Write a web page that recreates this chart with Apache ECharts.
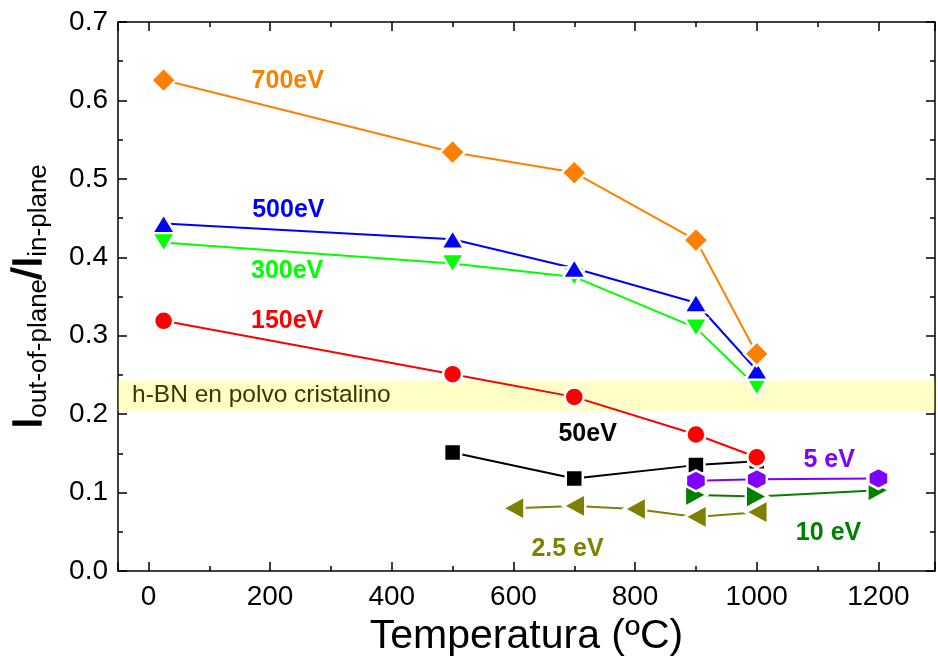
<!DOCTYPE html>
<html>
<head>
<meta charset="utf-8">
<script src="https://cdn.jsdelivr.net/npm/echarts@6/dist/echarts.min.js"></script>
<style>html,body{margin:0;padding:0;background:#fff;}#c{width:938px;height:662px;}</style>
</head>
<body>
<div id="c"></div>
<script>
// ---- data ----
const temps700 = [25, 500, 700, 900, 1000];
const values700 = [0.626, 0.534, 0.508, 0.422, 0.277];
const temps500 = [25, 500, 700, 900, 1000];
const values500 = [0.443, 0.423, 0.386, 0.342, 0.256];
const temps300 = [25, 500, 700, 900, 1000];
const values300 = [0.419, 0.392, 0.375, 0.310, 0.235];
const temps150 = [25, 500, 700, 900, 1000];
const values150 = [0.319, 0.251, 0.222, 0.174, 0.145];
const temps50 = [500, 700, 900, 1000];
const values50 = [0.151, 0.118, 0.135, 0.140];
const temps5 = [900, 1000, 1200];
const values5 = [0.115, 0.117, 0.118];
const temps10 = [900, 1000, 1200];
const values10 = [0.097, 0.095, 0.103];
const temps2_5 = [600, 700, 800, 900, 1000];
const values2_5 = [0.080, 0.083, 0.079, 0.069, 0.075];
const seriesNames = ['700eV', '500eV', '300eV', '150eV', '50eV', '5 eV', '10 eV', '2.5 eV'];
const bandRange = [0.204, 0.243];
const bandText = 'h-BN en polvo cristalino';
const xTitle = 'Temperatura (ºC)';

const FONT = 'Liberation Sans, Arial, sans-serif';
const HEX = 'path://M0,-10 L8.66,-5 L8.66,5 L0,10 L-8.66,5 L-8.66,-5 Z';

function pairs(xs, ys) { return xs.map((x, i) => [x, ys[i]]); }

function mkSeries(name, xs, ys, color, symbol, size, rotate, labelCoord) {
  return {
    name: name, type: 'line', data: pairs(xs, ys),
    xAxisIndex: 0, yAxisIndex: 0,
    symbol: symbol, symbolSize: size, symbolRotate: rotate || 0,
    lineStyle: { color: color, width: 2 },
    itemStyle: { color: color, borderColor: '#fff', borderWidth: 2.5 },
    emphasis: { disabled: true },
    animation: false,
    z: 3,
    markPoint: {
      symbol: 'circle', symbolSize: 1,
      itemStyle: { color: 'rgba(0,0,0,0)' },
      label: { show: true, position: 'inside', formatter: name, color: color,
               fontFamily: FONT, fontWeight: 'bold', fontSize: 25 },
      data: [{ coord: labelCoord }],
      animation: false
    }
  };
}

const xCommon = { type: 'value', min: -50, max: 1293, splitLine: { show: false } };
const axisLineStyle = { show: true, onZero: false, lineStyle: { color: '#000', width: 1.5 } };

const option = {
  backgroundColor: '#fff',
  animation: false,
  grid: { left: 118, right: 1, top: 22, bottom: 89 },
  xAxis: [
    Object.assign({}, xCommon, {
      position: 'bottom', splitNumber: 7,
      axisLine: axisLineStyle,
      axisTick: { show: true, inside: true, length: 9, lineStyle: { color: '#000', width: 1.5 } },
      axisLabel: { show: true, margin: 12, fontSize: 28, color: '#000', fontFamily: FONT,
        formatter: v => (Math.abs(v % 200) < 1e-6 ? String(v) : '') },
      name: xTitle, nameLocation: 'middle', nameGap: 45,
      nameTextStyle: { fontSize: 41, color: '#000', fontFamily: FONT }
    }),
    Object.assign({}, xCommon, {
      position: 'bottom', splitNumber: 13,
      axisLine: { show: false, onZero: false },
      axisTick: { show: true, inside: true, length: 5, lineStyle: { color: '#000', width: 1.5 } },
      axisLabel: { show: false }
    }),
    Object.assign({}, xCommon, {
      position: 'top', splitNumber: 7,
      axisLine: axisLineStyle,
      axisTick: { show: true, inside: true, length: 9, lineStyle: { color: '#000', width: 1.5 } },
      axisLabel: { show: false }
    }),
    Object.assign({}, xCommon, {
      position: 'top', splitNumber: 13,
      axisLine: { show: false, onZero: false },
      axisTick: { show: true, inside: true, length: 5, lineStyle: { color: '#000', width: 1.5 } },
      axisLabel: { show: false }
    })
  ],
  yAxis: [
    {
      type: 'value', position: 'left', min: 0, max: 0.7, interval: 0.1,
      splitLine: { show: false },
      axisLine: axisLineStyle,
      axisTick: { show: true, inside: true, length: 9, lineStyle: { color: '#000', width: 1.5 } },
      minorTick: { show: true, splitNumber: 2, length: 5, lineStyle: { color: '#000', width: 1.5 } },
      axisLabel: { show: true, margin: 10, fontSize: 28, color: '#000', fontFamily: FONT,
        formatter: v => v.toFixed(1) },
      name: '{I|I}{s|out-of-plane}{I|/I}{s|in-plane}',
      nameLocation: 'middle', nameGap: 66, nameRotate: 90,
      nameTextStyle: {
        color: '#000', fontFamily: FONT,
        rich: {
          I: { fontSize: 40, lineHeight: 44, color: '#000', fontFamily: FONT, verticalAlign: 'middle',
               textBorderColor: '#000', textBorderWidth: 1.5 },
          s: { fontSize: 26, lineHeight: 23, color: '#000', fontFamily: FONT, verticalAlign: 'bottom' }
        }
      }
    },
    {
      type: 'value', position: 'right', min: 0, max: 0.7, interval: 0.1,
      splitLine: { show: false },
      axisLine: axisLineStyle,
      axisTick: { show: true, inside: true, length: 9, lineStyle: { color: '#000', width: 1.5 } },
      minorTick: { show: true, splitNumber: 2, length: 5, lineStyle: { color: '#000', width: 1.5 } },
      axisLabel: { show: false }
    }
  ],
  series: [
    mkSeries(seriesNames[4], temps50, values50, '#000000', 'rect', 17, 0, [722, 0.174]),
    mkSeries(seriesNames[7], temps2_5, values2_5, '#808000', 'triangle', [24, 22], 90, [689, 0.028]),
    mkSeries(seriesNames[6], temps10, values10, '#008000', 'triangle', [24, 22], -90, [1118, 0.048]),
    mkSeries(seriesNames[5], temps5, values5, '#8000FF', HEX, [20, 21], 0, [1119, 0.141]),
    mkSeries(seriesNames[3], temps150, values150, '#FF0000', 'circle', 19, 0, [228, 0.318]),
    mkSeries(seriesNames[2], temps300, values300, '#00FF00', 'triangle', [23, 19], 180, [228, 0.382]),
    mkSeries(seriesNames[1], temps500, values500, '#0000FF', 'triangle', [23, 19], 0, [230, 0.460]),
    mkSeries(seriesNames[0], temps700, values700, '#FF8000', 'diamond', 25, 0, [229, 0.624]),
    {
      name: 'band', type: 'line', data: [], xAxisIndex: 0, yAxisIndex: 0, z: 10,
      silent: true, animation: false,
      markArea: {
        silent: true,
        itemStyle: { color: 'rgba(255,255,0,0.22)' },
        label: { show: true, position: 'insideLeft', distance: 14, formatter: bandText,
                 color: '#383800', fontSize: 24.5, fontFamily: FONT },
        data: [[{ yAxis: bandRange[0] }, { yAxis: bandRange[1] }]],
        animation: false
      }
    }
  ]
};

const chart = echarts.init(document.getElementById('c'), null, { renderer: 'canvas' });
chart.setOption(option);
</script>
</body>
</html>
